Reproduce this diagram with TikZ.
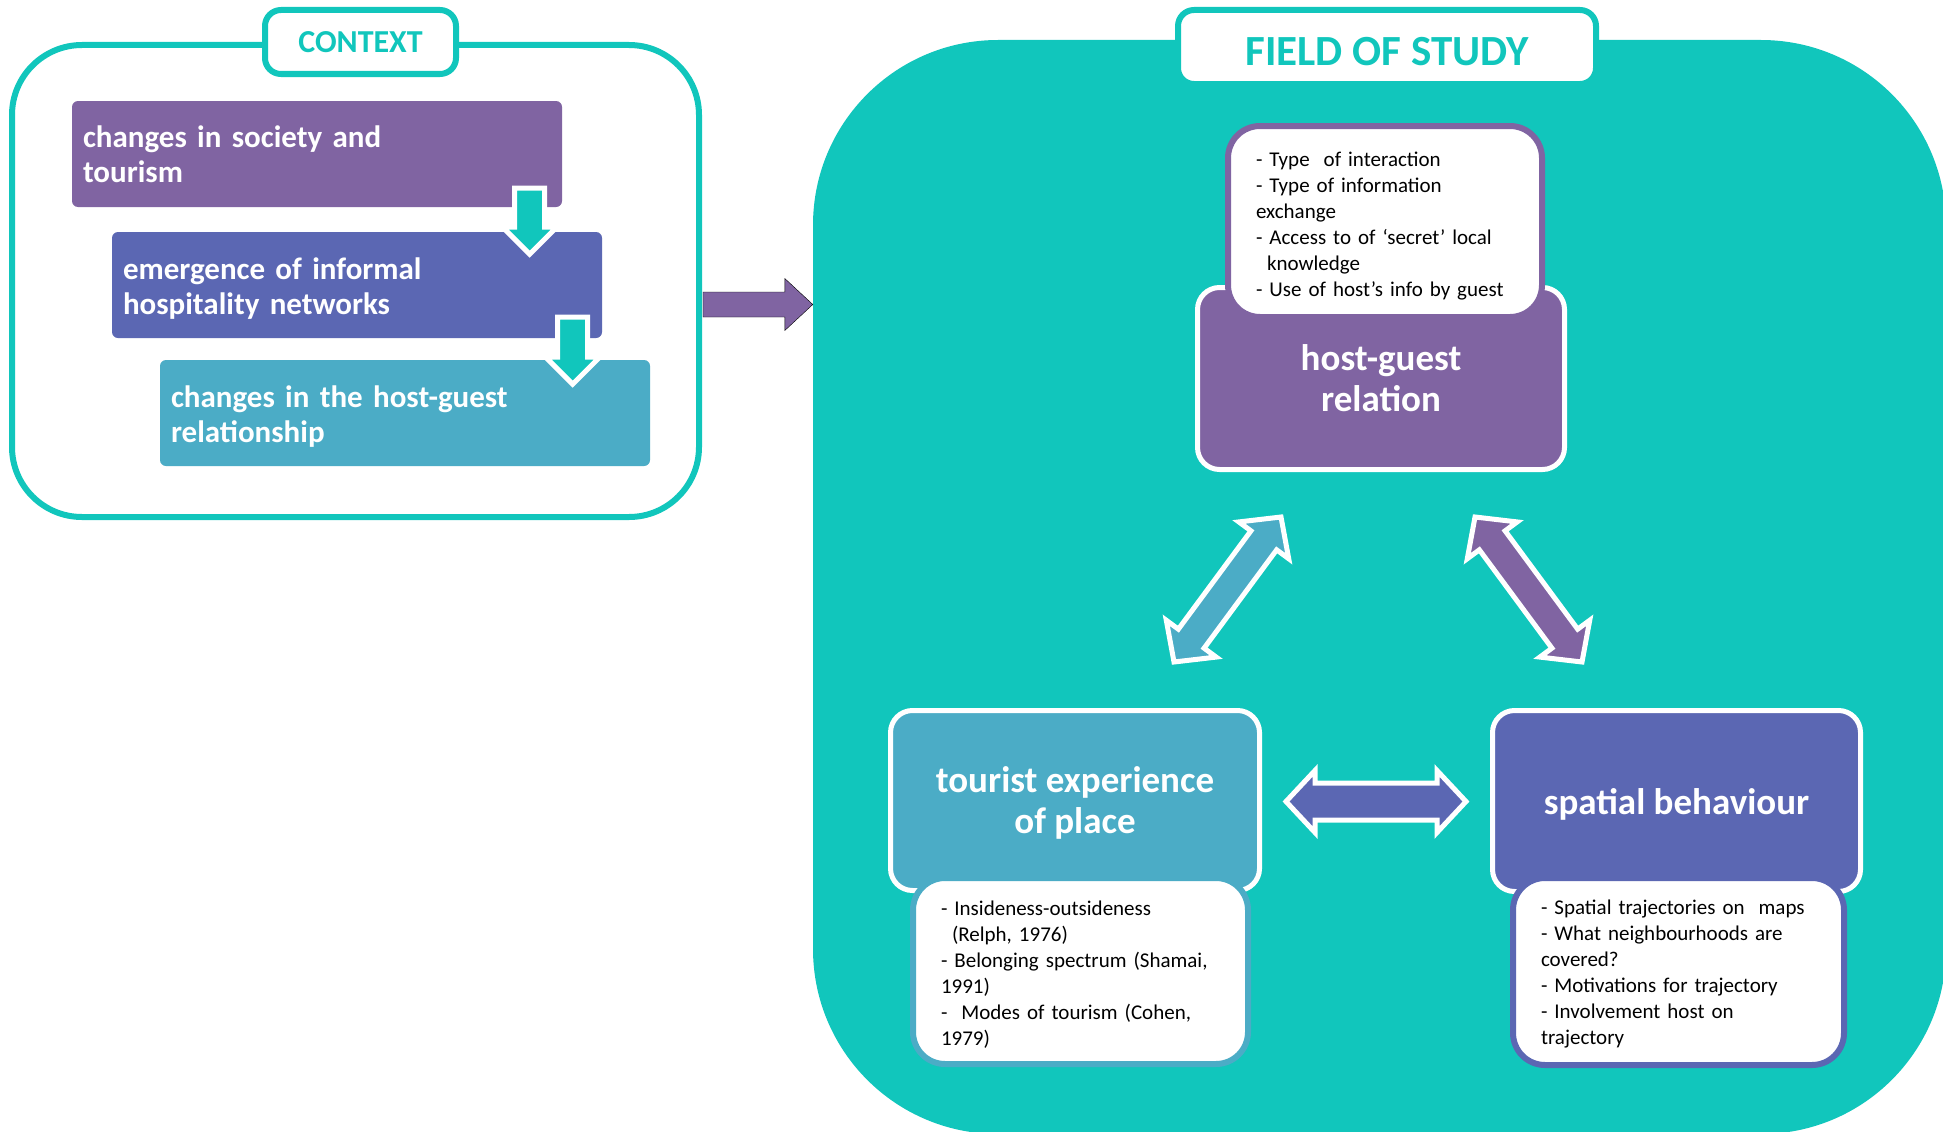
\documentclass[tikz,border=0pt]{standalone}
\usepackage{fontspec}
\setmainfont{Carlito}
\usetikzlibrary{calc}

\definecolor{fieldteal}{RGB}{17,198,188}
\definecolor{hostpurple}{RGB}{128,100,162}
\definecolor{spatialindigo}{RGB}{91,103,179}
\definecolor{touristblue}{RGB}{75,172,198}

% Block arrows: #1 style, #2 tail, #3 tip, #4 half shaft, #5 half head, #6 head length.
\newcommand{\singleblock}[6]{%
    \filldraw[#1] ($(#2)!#4!90:(#3)$) -- ($(#3)!#6!(#2)!#4!-90:(#2)$)
        -- ($(#3)!#6!(#2)!#5!-90:(#2)$) -- (#3) -- ($(#3)!#6!(#2)!#5!90:(#2)$)
        -- ($(#3)!#6!(#2)!#4!90:(#2)$) -- ($(#2)!#4!-90:(#3)$) -- cycle;}
\newcommand{\doubleblock}[6]{%
    \filldraw[#1] (#2) -- ($(#2)!#6!(#3)!#5!90:(#3)$) -- ($(#2)!#6!(#3)!#4!90:(#3)$)
        -- ($(#3)!#6!(#2)!#4!-90:(#2)$) -- ($(#3)!#6!(#2)!#5!-90:(#2)$)
        -- (#3) -- ($(#3)!#6!(#2)!#5!90:(#2)$) -- ($(#3)!#6!(#2)!#4!90:(#2)$)
        -- ($(#2)!#6!(#3)!#4!-90:(#3)$) -- ($(#2)!#6!(#3)!#5!-90:(#3)$) -- cycle;}

\begin{document}
\begin{tikzpicture}[
        x=1pt,
        y=-1pt,
        field-shape/.style={
            fill=fieldteal,
            rounded corners=185pt,
        },
        context-frame/.style={
            draw=fieldteal,
            line width=6pt,
            fill=white,
            rounded corners=70pt,
        },
        title-box/.style={
            draw=fieldteal,
            line width=6pt,
            fill=white,
            rounded corners=16pt,
            text=fieldteal,
        },
        stage-box/.style={
            rounded corners=6pt,
            minimum width=490pt,
            minimum height=106pt,
            text width=468pt,
            inner xsep=11pt,
            align=left,
            text=white,
            font=\fontsize{31}{35}\selectfont\bfseries,
        },
        topic-box/.style={
            draw=white,
            line width=5pt,
            rounded corners=22pt,
            text=white,
            text depth=0pt,
            align=center,
            font=\fontsize{37}{41}\selectfont\bfseries,
        },
        note-box/.style={
            line width=6pt,
            fill=white,
            rounded corners=32pt,
            inner xsep=28pt,
            align=left,
            font=\fontsize{21}{26}\selectfont,
        },
        arrow-step/.style={
            fill=fieldteal,
            draw=white,
            line width=5pt,
        },
        arrow-link/.style={
            draw=white,
            line width=5pt,
        },
    ]

    % Background shapes.
    \useasboundingbox (0,0) rectangle (1943,1132);
    \node[field-shape, minimum width=1133pt, minimum height=1094pt] (field) at (1379.5,587) {};
    \node[context-frame, minimum width=687pt, minimum height=472pt] (context) at (355.5,281) {};

    % Titles.
    \node[title-box, minimum width=191pt, minimum height=64pt,
        font=\fontsize{32}{36}\selectfont\bfseries] (context-title) at (360.5,42) {CONTEXT};
    \node[title-box, minimum width=418pt, minimum height=74pt, text height=38pt, text depth=0pt,
        font=\fontsize{43}{48}\selectfont\bfseries] (field-title) at (1387,47) {FIELD OF STUDY};

    % Context stages.
    \foreach \name/\x/\y/\col/\th/\txt in {
        stage1/317/154/hostpurple/21.5pt/{changes in society and\\tourism},
        stage2/357/285/spatialindigo/28pt/{emergence of informal\\hospitality networks},
        stage3/405/413/touristblue/28pt/{changes in the host-guest\\relationship}}
    \node[stage-box, fill=\col, text height=\th] (\name) at (\x,\y) {\txt};

    % Arrows between the stages.
    \coordinate (stage1-out) at ($(stage1.south east)+(-32.5,-19)$);
    \coordinate (stage2-in) at ($(stage1.south east)+(-32.5,47)$);
    \coordinate (stage2-out) at ($(stage2.south east)+(-29.5,-21)$);
    \coordinate (stage3-in) at ($(stage2.south east)+(-29.5,46)$);
    \singleblock{arrow-step}{stage1-out}{stage2-in}{15pt}{27pt}{27pt}
    \singleblock{arrow-step}{stage2-out}{stage3-in}{15pt}{27pt}{27pt}

    % Context feeds the field of study.
    \coordinate (context-out) at ($(context.east)+(1,23.5)$);
    \coordinate (field-in) at (field.west |- context-out);
    \singleblock{fill=hostpurple}{context-out}{field-in}{12.5pt}{26pt}{28pt}

    % Topics of the field of study.
    \node[topic-box, fill=hostpurple, minimum width=367pt, minimum height=182pt] (host) at (1381,378.5) {host-guest\\relation};
    \node[note-box, draw=hostpurple, minimum width=314pt, minimum height=191pt, text width=258pt, text height=23.5pt] (host-note) at (1385,221.5)
        {- Type\ \ of interaction\\- Type of information\\exchange\\- Access to of ‘secret’ local\\\hspace*{11pt}knowledge\\- Use of host’s info by guest};

    \node[topic-box, fill=touristblue, minimum width=369pt, minimum height=180pt] (tourist) at (1075,800.5) {tourist experience\\of place};
    \node[note-box, draw=touristblue, minimum width=335pt, minimum height=186pt, text width=279pt, text height=22pt] (tourist-note) at (1080.5,971)
        {- Insideness-outsideness\\\hspace*{11pt}(Relph, 1976)\\- Belonging spectrum (Shamai,\\1991)\\-\ \ Modes of tourism (Cohen,\\1979)};

    \node[topic-box, fill=spatialindigo, minimum width=368pt, minimum height=181pt] (spatial) at (1676.5,801) {spatial behaviour};
    \node[note-box, draw=spatialindigo, minimum width=331pt, minimum height=187pt, text width=275pt, text height=20pt] (spatial-note) at (1678.5,971.5)
        {- Spatial trajectories on\ \ maps\\- What neighbourhoods are\\covered?\\- Motivations for trajectory\\- Involvement host on\\trajectory};

    % Links between the topics.
    \coordinate (tourist-up) at (1174,662);
    \coordinate (host-left) at (1281,517);
    \coordinate (host-right) at (1475,517);
    \coordinate (spatial-up) at (1582,662);
    \coordinate (tourist-right) at (1286,801.5);
    \coordinate (spatial-left) at (1466,801.5);
    \foreach \a/\b/\col/\w in {tourist-up/host-left/touristblue/16pt,
        host-right/spatial-up/hostpurple/16pt,
        tourist-right/spatial-left/spatialindigo/18.5pt}
    {\doubleblock{arrow-link, fill=\col}{\a}{\b}{\w}{31pt}{29pt}}
\end{tikzpicture}
\end{document}
